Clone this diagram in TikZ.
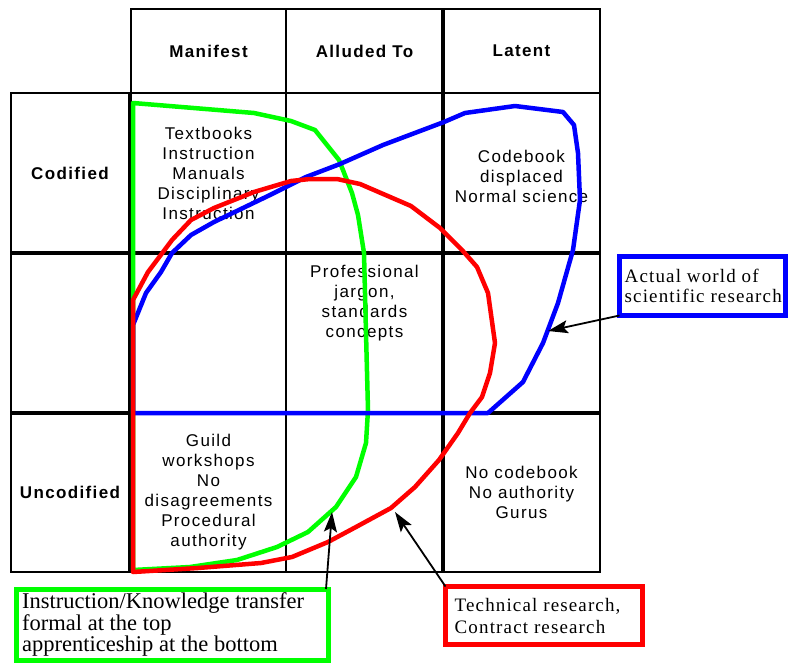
\documentclass[tikz,border=0pt]{standalone}
\usepackage{fontspec}
\setmainfont{Liberation Serif}
\newfontfamily\tabfont{Liberation Sans}[LetterSpace=8]
\newfontfamily\callfont{Liberation Serif}[LetterSpace=6]
\newfontfamily\greenfont{Liberation Serif}
\usetikzlibrary{arrows.meta}
\definecolor{gcol}{RGB}{0,255,0}
\definecolor{bcol}{RGB}{0,0,255}
\definecolor{rcol}{RGB}{255,0,0}
\begin{document}
\begin{tikzpicture}[x=1pt,y=-1pt,
  cellbox/.style={draw, line width=2pt, inner sep=0pt, outer sep=0pt, align=center,
    font=\tabfont\fontsize{17}{20}\selectfont},
  headbox/.style={cellbox, font=\tabfont\bfseries\fontsize{17}{20}\selectfont},
  tabtxt/.style={inner sep=0pt, align=center, font=\tabfont\fontsize{17}{20}\selectfont},
  sepline/.style={line width=3.6pt},
  curveline/.style={line width=4.5pt, line join=round},
  callbox/.style={line width=5pt, inner sep=0pt, outer sep=0pt, anchor=north west},
  calltxt/.style={inner sep=0pt, anchor=west, align=left},
  pointer/.style={line width=1.8pt, -{Stealth[length=20pt,width=13pt,inset=4pt]}}
]
\useasboundingbox (0,0) rectangle (788,664);
\fill[white] (0,0) rectangle (788,664);

% header cells
\node[headbox, minimum width=155, minimum height=84] (hA) at (208.5,51) {Manifest};
\node[headbox, minimum width=157, minimum height=84] (hB) at (364.5,51) {Alluded To};
\node[headbox, minimum width=157, minimum height=84] (hC) at (521.5,51) {Latent};

% row label cells
\node[headbox, minimum width=118, minimum height=160] (l1) at (70,173) {Codified};
\node[headbox, minimum width=118, minimum height=160] (l2) at (70,333) {};
\node[headbox, minimum width=118, minimum height=159] (l3) at (70,492.5) {Uncodified};

% body cells
\node[cellbox, minimum width=155, minimum height=160] (c11) at (208.5,173) {Textbooks\\Instruction\\Manuals\\Disciplinary\\Instruction};
\node[cellbox, minimum width=157, minimum height=160] (c12) at (364.5,173) {};
\node[cellbox, minimum width=157, minimum height=160] (c13) at (521.5,173) {};
\node[tabtxt] (t13) at (521.5,176) {Codebook\\displaced\\Normal science};
\node[cellbox, minimum width=155, minimum height=160] (c21) at (208.5,333) {};
\node[cellbox, minimum width=157, minimum height=160] (c22) at (364.5,333) {};
\node[tabtxt] (t22) at (364.5,303) {Professional\\jargon,\\standards\\concepts};
\node[cellbox, minimum width=157, minimum height=160] (c23) at (521.5,333) {};
\node[cellbox, minimum width=155, minimum height=159] (c31) at (208.5,492.5) {Guild\\workshops\\No\\disagreements\\Procedural\\authority};
\node[cellbox, minimum width=157, minimum height=159] (c32) at (364.5,492.5) {};
\node[cellbox, minimum width=157, minimum height=159] (c33) at (521.5,492.5) {No codebook\\No authority\\Gurus};

% double separators
\draw[sepline] (l2.north west) -- (c23.north east);
\draw[sepline] (l3.north west) -- (c33.north east);
\draw[sepline] (hC.north west) -- (c33.south west);

% green curve
\draw[curveline, draw=gcol] (133,103) -- (254,113) -- (291,121) -- (315,130) -- (339,160)
  -- (352,193) -- (358,215) -- (364,253) -- (366,333) -- (368,410) -- (366,443)
  -- (356,477) -- (336,507) -- (308,532) -- (277,547) -- (237,560) -- (190,567)
  -- (133,570) -- cycle;

% blue curve
\draw[curveline, draw=bcol] (133,413) -- (488,413) -- (523,382) -- (543,343) -- (558,303)
  -- (573,250) -- (580,200) -- (578,153) -- (574,125) -- (563,112) -- (515,106)
  -- (465,113) -- (444,122) -- (383,145) -- (340,164) -- (306,177) -- (270,195)
  -- (214,222) -- (191,235) -- (172,253) -- (161,272) -- (146,293) -- (133,325) -- cycle;

% red curve
\draw[curveline, draw=rcol] (133,572) -- (133,300) -- (148,272) -- (160,256) -- (172,240)
  -- (191,220) -- (214,208) -- (254,192) -- (291,181) -- (310,179) -- (337,179)
  -- (360,184) -- (411,206) -- (440,228) -- (462,250) -- (477,267) -- (488,293)
  -- (495,343) -- (490,373) -- (482,397) -- (470,413) -- (458,433) -- (439,460)
  -- (415,487) -- (391,508) -- (356,527) -- (328,542) -- (292,557) -- (261,563)
  -- (198,568) -- cycle;

% callout boxes
\node[callbox, draw=bcol, minimum width=166, minimum height=59] (bbox) at (619.5,256.5) {};
\node[calltxt, font=\callfont\fontsize{19}{19.5}\selectfont] (btxt) at ([xshift=5pt]bbox.west)
  {Actual world of\\scientific research};
\node[callbox, draw=gcol, minimum width=312, minimum height=71] (gbox) at (16,589) {};
\node[calltxt, font=\greenfont\fontsize{22.5}{20.5}\selectfont] (gtxt) at ([xshift=6pt]gbox.west)
  {Instruction/Knowledge transfer\\formal at the top\\apprenticeship at the bottom};
\node[callbox, draw=rcol, minimum width=197, minimum height=58] (rbox) at (445.5,586.5) {};
\node[calltxt, font=\callfont\fontsize{19}{22}\selectfont] (rtxt) at ([xshift=9pt]rbox.west)
  {Technical research,\\Contract research};

% pointers
\coordinate (btip) at (548,331);
\coordinate (gtip) at (332,512);
\coordinate (rtip) at (395,512);
\draw[pointer] (bbox.south west) -- (btip);
\draw[pointer] ([xshift=-2pt]gbox.north east) -- (gtip);
\draw[pointer] (rbox.north west) -- (rtip);
\end{tikzpicture}
\end{document}
